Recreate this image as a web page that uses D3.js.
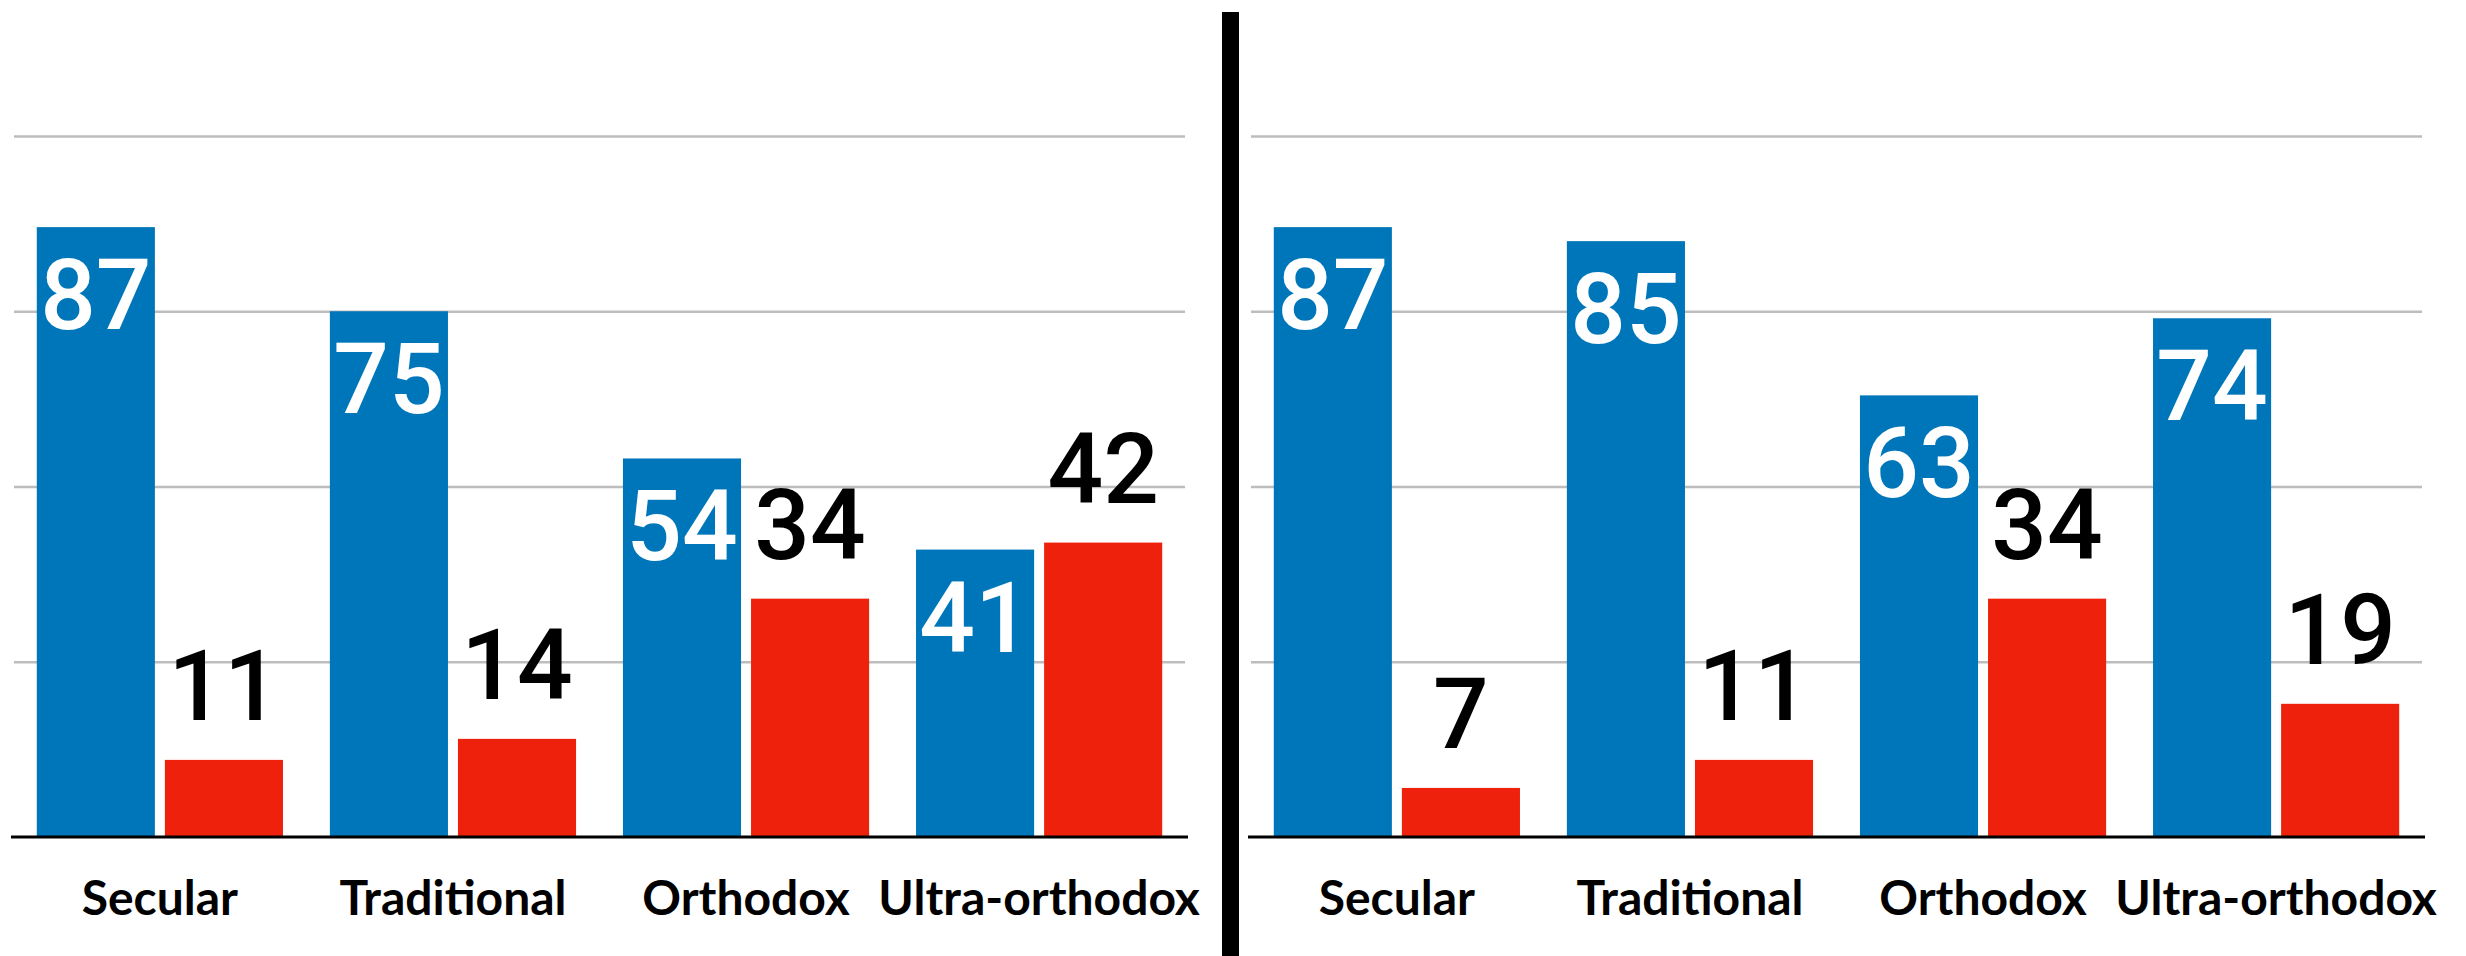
<!DOCTYPE html>
<html>
<head>
<meta charset="utf-8">
<script src="https://cdn.jsdelivr.net/npm/d3@7"></script>
<style>
  body { margin: 0; background: #fff; }
  .grid line { stroke: #bdbdbd; stroke-width: 2.5px; }
  .grid .domain { display: none; }
  .cat { font-family: Lato, sans-serif; font-weight: 700; font-size: 48px; fill: #000; }
  .val { font-family: Roboto, "Liberation Sans", sans-serif; font-weight: 500; font-size: 98px; }
</style>
</head>
<body>
<div class="root"></div>
<script>
const categories = ['Secular', 'Traditional', 'Orthodox', 'Ultra-orthodox'];
const leftBlue = [87, 75, 54, 41];
const leftRed = [11, 14, 34, 42];
const rightBlue = [87, 85, 63, 74];
const rightRed = [7, 11, 34, 19];
const gridTicks = [25, 50, 75, 100];

const svgWidth = 2466;
const svgHeight = 956;

const svg = d3.select('.root')
  .append('svg')
  .attr('width', svgWidth)
  .attr('height', svgHeight);

const baseY = 837;
const y = d3.scaleLinear().domain([0, 100]).range([baseY, 136]);

const colors = { blue: '#0076ba', red: '#ee220c' };

const drawPanel = (x0, x1, blue, red) => {
  const g = svg.append('g');

  const rows = categories.map((c, i) => ({ cat: c, blue: blue[i], red: red[i] }));

  const x = d3.scaleBand()
    .domain(categories)
    .range([x0, x1])
    .paddingInner(0.16)
    .paddingOuter(0.088);

  const xs = d3.scaleBand()
    .domain(['blue', 'red'])
    .range([0, x.bandwidth()])
    .paddingInner(0.078);

  // gridlines
  g.append('g')
    .attr('class', 'grid')
    .attr('transform', `translate(${x0 + 3},0)`)
    .call(d3.axisRight(y).tickValues(gridTicks).tickSize(x1 - x0 - 6).tickFormat(''));

  const grp = g.selectAll('.grp')
    .data(rows)
    .enter()
    .append('g')
    .attr('class', 'grp')
    .attr('transform', d => `translate(${x(d.cat)},0)`);

  grp.selectAll('rect')
    .data(d => ['blue', 'red'].map(k => ({ key: k, value: d[k] })))
    .enter()
    .append('rect')
    .attr('x', d => xs(d.key))
    .attr('y', d => y(d.value))
    .attr('width', xs.bandwidth())
    .attr('height', d => baseY - y(d.value))
    .attr('fill', d => colors[d.key]);

  // white labels inside blue bars
  grp.append('text')
    .attr('class', 'val')
    .attr('x', xs('blue') + xs.bandwidth() / 2)
    .attr('y', d => y(d.blue) + 102)
    .attr('text-anchor', 'middle')
    .attr('fill', '#fff')
    .text(d => d.blue);

  // black labels above red bars
  grp.append('text')
    .attr('class', 'val')
    .attr('x', xs('red') + xs.bandwidth() / 2)
    .attr('y', d => y(d.red) - 40)
    .attr('text-anchor', 'middle')
    .attr('fill', '#000')
    .text(d => d.red);

  // baseline
  g.append('line')
    .attr('x1', x0).attr('x2', x1)
    .attr('y1', baseY).attr('y2', baseY)
    .attr('stroke', '#000')
    .attr('stroke-width', 3);

  g.selectAll('.cat')
    .data(categories)
    .enter()
    .append('text')
    .attr('class', 'cat')
    .attr('x', d => x(d) + x.bandwidth() / 2)
    .attr('y', 915)
    .attr('text-anchor', 'middle')
    .text(d => d);
};

drawPanel(11, 1188, leftBlue, leftRed);
drawPanel(1248, 2425, rightBlue, rightRed);

// divider
svg.append('line')
  .attr('x1', 1230.5).attr('x2', 1230.5)
  .attr('y1', 12).attr('y2', svgHeight)
  .attr('stroke', '#000')
  .attr('stroke-width', 17);
</script>
</body>
</html>
